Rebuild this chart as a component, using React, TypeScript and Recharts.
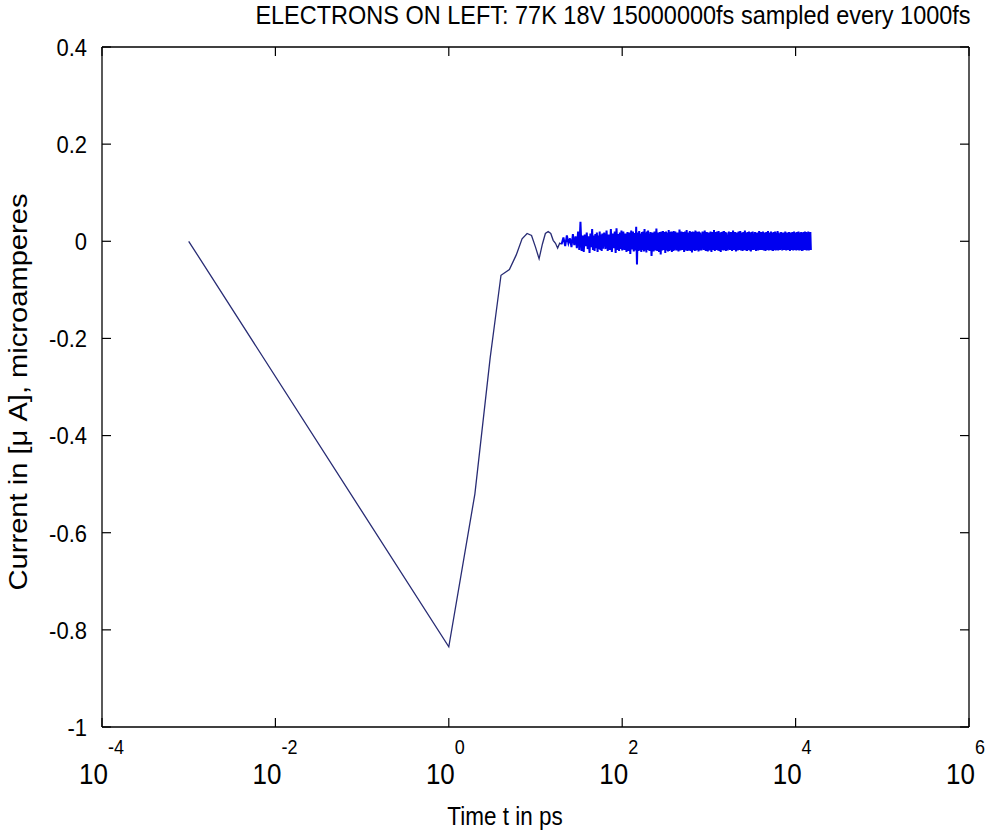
import React from 'react';
import { LineChart, Line, XAxis, YAxis } from 'recharts';

// ---------- data ----------
const earlyT = [0.001, 1, 2, 3, 4, 5, 6, 7, 8, 9, 10, 11, 12, 13, 14, 15, 16, 17, 18, 19];
const earlyV = [0, -0.835, -0.52, -0.24, -0.07, -0.058, -0.028, 0.005, 0.016, 0.012, -0.012, -0.036, -0.006, 0.016, 0.02, 0.016, 0.002, -0.004, -0.014, -0.004];

const noiseT = [
  20, 21, 22, 23, 24, 25, 26, 27, 28, 29, 30, 31, 32, 33, 34, 35, 36, 37, 38, 39, 40,
  41, 42, 43, 44, 45, 46, 47, 48, 49, 50, 51, 52, 53, 54, 55, 56, 57, 58, 59, 60,
  62, 64, 66, 68, 70, 72, 74, 76, 78, 80, 82, 84, 86, 88, 90, 92, 94, 96, 98, 100,
  103, 106, 109, 112, 115, 118, 121, 124, 127, 130, 133, 136, 139, 142, 145, 148, 151,
  154, 157, 160, 163, 166, 169, 172, 175, 178, 181, 184, 187, 190, 193, 196, 199,
  206, 212, 218, 224, 230, 236, 242, 248, 254, 260, 266, 272, 278, 284, 290, 296, 302,
  308, 314, 320, 326, 332, 338, 344, 350, 356, 362, 368, 374, 380, 386, 392, 398,
  410, 422, 434, 446, 458, 470, 482, 494, 506, 518, 530, 542, 554, 566, 578, 590, 602,
  614, 626, 638, 650, 662, 674, 686, 698, 710, 722, 734, 746, 758, 770, 782, 794,
  820, 845, 870, 895, 920, 945, 970, 995, 1020, 1045, 1070, 1095, 1120, 1145, 1170, 1195,
  1220, 1245, 1270, 1295, 1320, 1345, 1370, 1395, 1420, 1445, 1470, 1495, 1520, 1545, 1570, 1595,
  1650, 1700, 1750, 1800, 1850, 1900, 1950, 2000, 2050, 2100, 2150, 2200, 2250, 2300, 2350, 2400,
  2450, 2500, 2550, 2600, 2650, 2700, 2750, 2800, 2850, 2900, 2950, 3000, 3050, 3100, 3150, 3200,
  3300, 3400, 3500, 3600, 3700, 3800, 3900, 4000, 4100, 4200, 4300, 4400, 4500, 4600, 4700, 4800,
  4900, 5000, 5100, 5200, 5300, 5400, 5500, 5600, 5700, 5800, 5900, 6000, 6100, 6200, 6300, 6400,
  6600, 6800, 7000, 7200, 7400, 7600, 7800, 8000, 8200, 8400, 8600, 8800, 9000, 9200, 9400,
  9600, 9800, 10000, 10200, 10400, 10600, 10800, 11000, 11200, 11400, 11600, 11800, 12000,
  12200, 12400, 12600, 12800, 13000, 13200, 13400, 13600, 13800, 14000, 14200, 14400, 14600,
  14800, 15000,
];

const noiseV = [
  // 20..60
  -0.006, 0.008, -0.010, 0.012, -0.004, 0.006, -0.012, 0.015, -0.008, 0.010, -0.014, 0.020, -0.018, 0.040,
  -0.020, 0.012, -0.022, 0.014, -0.010, 0.018, -0.016, 0.010, -0.024, 0.016, -0.012, 0.025, -0.018, 0.012,
  -0.020, 0.015, -0.014, 0.018, -0.022, 0.012, -0.016, 0.020, -0.018, 0.014, -0.020, 0.016, -0.015,
  // 62..100
  0.018, -0.016, 0.022, -0.020, 0.014, -0.018, 0.025, -0.022, 0.016, -0.014, 0.020, -0.024, 0.027, -0.018,
  0.015, -0.020, 0.018, -0.016, 0.022, -0.019,
  // 103..199
  0.020, -0.018, 0.016, -0.022, 0.019, -0.020, 0.018, -0.026, 0.022, -0.017, 0.020, -0.021, 0.017, -0.019,
  0.030, -0.048, 0.018, -0.020, 0.021, -0.019, 0.016, -0.022, 0.019, -0.018, 0.020, -0.021, 0.025, -0.019,
  0.018, -0.023, 0.020, -0.018, 0.022,
  // 206..398
  -0.020, 0.019, -0.030, 0.018, -0.021, 0.020, -0.019, 0.026, -0.020, 0.018, -0.022, 0.019, -0.027, 0.020,
  -0.019, 0.021, -0.018, 0.019, -0.024, 0.020, -0.019, 0.018, -0.021, 0.023, -0.020, 0.019, -0.018, 0.020,
  -0.022, 0.019, -0.020, 0.021, -0.019,
  // 410..794
  0.020, -0.019, 0.018, -0.021, 0.024, -0.019, 0.020, -0.018, 0.019, -0.022, 0.020, -0.019, 0.023, -0.020,
  0.018, -0.019, 0.021, -0.020, 0.019, -0.023, 0.020, -0.018, 0.019, -0.020, 0.022, -0.019, 0.020, -0.018,
  0.019, -0.021, 0.020, -0.019, 0.018,
  // 820..1595
  -0.019, 0.020, -0.018, 0.022, -0.020, 0.019, -0.021, 0.018, -0.019, 0.020, -0.022, 0.019, -0.018, 0.023,
  -0.020, 0.019, -0.018, 0.020, -0.019, 0.021, -0.020, 0.018, -0.022, 0.019, -0.018, 0.020, -0.019, 0.021,
  -0.018, 0.019, -0.020, 0.018,
  // 1650..3200
  -0.019, 0.020, -0.018, 0.019, -0.020, 0.022, -0.018, 0.019, -0.021, 0.018, -0.019, 0.020, -0.018, 0.021,
  -0.019, 0.018, -0.020, 0.019, -0.018, 0.022, -0.019, 0.018, -0.020, 0.019, -0.018, 0.020, -0.019, 0.018,
  -0.021, 0.019, -0.018, 0.020,
  // 3300..6400
  -0.018, 0.019, -0.020, 0.018, -0.019, 0.021, -0.018, 0.019, -0.018, 0.020, -0.019, 0.018, -0.020, 0.019,
  -0.018, 0.021, -0.019, 0.018, -0.018, 0.020, -0.019, 0.018, -0.020, 0.019, -0.018, 0.020, -0.019, 0.018,
  -0.018, 0.021, -0.019, 0.018,
  // 6600..15000
  -0.018, 0.019, -0.019, 0.018, -0.018, 0.020, -0.019, 0.018, -0.018, 0.019, -0.020, 0.018, -0.018, 0.019,
  -0.019, 0.020, -0.018, 0.018, -0.019, 0.019, -0.018, 0.020, -0.019, 0.018, -0.018, 0.019, -0.020, 0.018,
  -0.019, 0.019, -0.018, 0.020, -0.018, 0.019, -0.019, 0.018, -0.018, 0.020, -0.019, 0.018, -0.018, 0.019,
  -0.018,
];

const xTicks = [1e-4, 1e-2, 1, 1e2, 1e4, 1e6];
const xTickExp = ['-4', '-2', '0', '2', '4', '6'];
const yTicks = [-1, -0.8, -0.6, -0.4, -0.2, 0, 0.2, 0.4];
const yTickLabels = ['-1', '-0.8', '-0.6', '-0.4', '-0.2', '0', '0.2', '0.4'];

const titleText = 'ELECTRONS ON LEFT: 77K 18V 15000000fs sampled every 1000fs';
const xLabelText = 'Time t in ps';
const yLabelText = 'Current in [\u03bc A], microamperes';

// ---------- layout / style ----------
const W = 990;
const H = 831;
const L = 102;
const R = 969;
const T = 47;
const B = 727;
const TICK = 9;
const SY = 1.12; // glyphs in the reference are vertically stretched
const FONT = '"Liberation Sans", Arial, Helvetica, sans-serif';
const AXIS_COLOR = '#000';

const earlyData = earlyT.map((t, i) => ({ t, v: earlyV[i] }));
const noiseData = noiseT.map((t, i) => ({ t, v: noiseV[i] }));
const earlyLine = [...earlyData, noiseData[0]];

function xIndex(v: number) {
  return xTicks.findIndex((k) => Math.abs(Math.log10(k) - Math.log10(v)) < 1e-6);
}
function yIndex(v: number) {
  return yTicks.findIndex((k) => Math.abs(k - v) < 1e-9);
}

function BottomTick(props: any) {
  const { x, payload } = props;
  const i = xIndex(payload.value);
  return (
    <g>
      <line x1={x} x2={x} y1={B} y2={B - TICK} stroke={AXIS_COLOR} strokeWidth={1.2} />
      <text
        transform={`translate(${x + 6}, 784) scale(1, ${SY})`}
        textAnchor="end"
        fontFamily={FONT}
        fontSize={26}
        fill="#000"
      >
        10
      </text>
      <text
        transform={`translate(${x + 6}, 754) scale(1, ${SY})`}
        textAnchor="start"
        fontFamily={FONT}
        fontSize={18}
        fill="#000"
      >
        {xTickExp[i]}
      </text>
    </g>
  );
}

function TopTick(props: any) {
  const { x } = props;
  return <line x1={x} x2={x} y1={T} y2={T + TICK} stroke={AXIS_COLOR} strokeWidth={1.2} />;
}

function LeftTick(props: any) {
  const { y, payload } = props;
  const i = yIndex(payload.value);
  return (
    <g>
      <line x1={L} x2={L + TICK} y1={y} y2={y} stroke={AXIS_COLOR} strokeWidth={1.2} />
      <text
        transform={`translate(${L - 15}, ${y}) scale(1, ${SY})`}
        dy="0.36em"
        textAnchor="end"
        fontFamily={FONT}
        fontSize={22}
        fill="#000"
      >
        {yTickLabels[i]}
      </text>
    </g>
  );
}

function RightTick(props: any) {
  const { y } = props;
  return <line x1={R} x2={R - TICK} y1={y} y2={y} stroke={AXIS_COLOR} strokeWidth={1.2} />;
}

export default function App() {
  return (
    <div style={{ position: 'absolute', left: 0, top: 0, width: W, height: H, background: '#fff' }}>
      <LineChart
        width={W}
        height={H}
        margin={{ top: T - 10, right: W - R - 10, bottom: H - B - 60, left: L - 60 }}
        style={{ background: '#fff' }}
      >
        <XAxis
          xAxisId="b"
          dataKey="t"
          type="number"
          scale="log"
          domain={[1e-4, 1e6]}
          allowDataOverflow
          ticks={xTicks}
          interval={0}
          height={60}
          tickLine={false}
          tickSize={0}
          tickMargin={0}
          axisLine={{ stroke: AXIS_COLOR, strokeWidth: 1.3 }}
          tick={<BottomTick />}
        />
        <XAxis
          xAxisId="tp"
          orientation="top"
          dataKey="t"
          type="number"
          scale="log"
          domain={[1e-4, 1e6]}
          allowDataOverflow
          ticks={xTicks}
          interval={0}
          height={10}
          tickLine={false}
          tickSize={0}
          tickMargin={0}
          axisLine={{ stroke: AXIS_COLOR, strokeWidth: 1.3 }}
          tick={<TopTick />}
        />
        <YAxis
          yAxisId="l"
          type="number"
          domain={[-1, 0.4]}
          allowDataOverflow
          ticks={yTicks}
          interval={0}
          width={60}
          tickLine={false}
          tickSize={0}
          tickMargin={0}
          axisLine={{ stroke: AXIS_COLOR, strokeWidth: 1.3 }}
          tick={<LeftTick />}
        />
        <YAxis
          yAxisId="r"
          orientation="right"
          type="number"
          domain={[-1, 0.4]}
          allowDataOverflow
          ticks={yTicks}
          interval={0}
          width={10}
          tickLine={false}
          tickSize={0}
          tickMargin={0}
          axisLine={{ stroke: AXIS_COLOR, strokeWidth: 1.3 }}
          tick={<RightTick />}
        />
        <Line
          xAxisId="b"
          yAxisId="l"
          data={earlyLine}
          dataKey="v"
          type="linear"
          stroke="#282c74"
          strokeWidth={1.3}
          dot={false}
          activeDot={false}
          isAnimationActive={false}
        />
        <Line
          xAxisId="b"
          yAxisId="l"
          data={noiseData}
          dataKey="v"
          type="linear"
          stroke="#0000f0"
          strokeWidth={2}
          dot={false}
          activeDot={false}
          isAnimationActive={false}
        />
      </LineChart>
      <svg
        width={W}
        height={H}
        style={{ position: 'absolute', left: 0, top: 0, pointerEvents: 'none' }}
      >
        <text
          transform={`translate(613, 24) scale(1, 1.08)`}
          textAnchor="middle"
          fontFamily={FONT}
          fontSize={23.5}
          fill="#000"
        >
          {titleText}
        </text>
        <text
          transform={`translate(505, 825) scale(1, ${SY})`}
          textAnchor="middle"
          fontFamily={FONT}
          fontSize={22.5}
          fill="#000"
        >
          {xLabelText}
        </text>
        <text
          transform={`translate(27, 392) rotate(-90) scale(${SY}, 1)`}
          textAnchor="middle"
          fontFamily={FONT}
          fontSize={26}
          fill="#000"
        >
          {yLabelText}
        </text>
      </svg>
    </div>
  );
}
